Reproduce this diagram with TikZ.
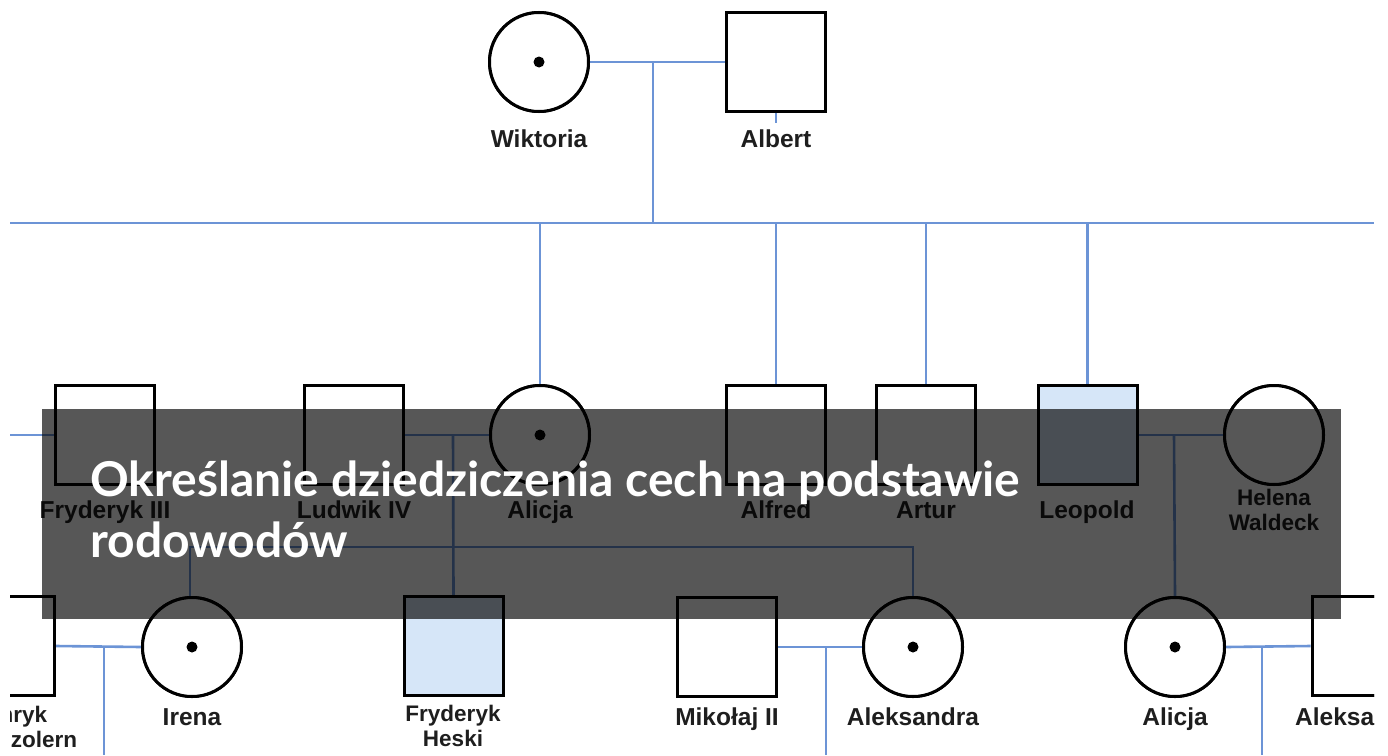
\documentclass[tikz,border=0pt]{standalone}
\usepackage{fontspec}
\newfontfamily\lblfont{Liberation Sans}
\newfontfamily\ttlfont{Lato}
\definecolor{linkblue}{HTML}{6C94D6}
\definecolor{affected}{HTML}{D6E6F8}
\definecolor{lbltext}{HTML}{1E1E1E}
\tikzset{
  person/.style={draw=black, line width=3pt, fill=white, inner sep=0pt, minimum size=99pt},
  male/.style={person, rectangle},
  female/.style={person, circle},
  carrier/.style={female, path picture={\fill[black] (path picture bounding box.center) circle (5.5pt);}},
  aff/.style={fill=affected},
  rel/.style={draw=linkblue, line width=2.6pt},
  lbl/.style={text=lbltext, font=\lblfont\bfseries\fontsize{24.5}{25}\selectfont, anchor=base, inner sep=0pt},
  lbltwo/.style={text=lbltext, font=\lblfont\bfseries\fontsize{22.5}{25}\selectfont, anchor=base, inner sep=0pt, align=center},
  ttl/.style={text=white, font=\ttlfont\bfseries\fontsize{48}{61}\selectfont, anchor=base west, inner sep=0pt, align=left}
}
\begin{document}
\begin{tikzpicture}[x=1pt, y=-1pt]
\useasboundingbox (0,0) rectangle (1388,755);
\fill[white] (0,0) rectangle (1388,755);
\begin{scope}
\clip (10,0) rectangle (1374,755);
% generation I
\node[carrier] (wik) at (539,62) {};
\node[male] (alb) at (776,62) {};
% generation II
\node[male] (fry3) at (105,435) {};
\node[male] (lud) at (353.5,435) {};
\node[carrier] (ali) at (540,435) {};
\node[male] (alf) at (776,435) {};
\node[male] (art) at (926,435) {};
\node[male, aff] (leo) at (1087.5,435) {};
\node[female] (hel) at (1274,435) {};
% generation III
\node[male] (hoh) at (5,646) {};
\node[carrier] (ire) at (192,647) {};
\node[male, aff] (fhe) at (453.5,646) {};
\node[male] (mik) at (727,647) {};
\node[carrier] (ale) at (913,647) {};
\node[carrier] (ali2) at (1175,647) {};
\node[male] (alx) at (1361.5,646) {};
% coordinates
\coordinate (sibL) at (10,223);
\coordinate (sibR) at (1374,223);
\coordinate (wa) at (653,62);
\coordinate (wad) at (653,223);
\coordinate (fl) at (10,435);
\coordinate (la) at (453,435);
\coordinate (lh) at (1174,435);
\coordinate (hi) at (104,646);
\coordinate (hid) at (104,755);
\coordinate (ma) at (826,647);
\coordinate (mad) at (826,755);
\coordinate (aa) at (1262,647);
\coordinate (aad) at (1262,755);
% connectors
\draw[rel] (wik.east) -- (alb.west);
\draw[rel] (wa) -- (wad);
\draw[rel] (sibL) -- (sibR);
\draw[rel] (alb.south) -- ++(0,10);
\draw[rel] (ali.north) -- (ali.north |- sibL);
\draw[rel] (alf.north) -- (alf.north |- sibL);
\draw[rel] (art.north) -- (art.north |- sibL);
\draw[rel] (leo.north) -- (leo.north |- sibL);
\draw[rel] (fl) -- (fry3.west);
\draw[rel] (lud.east) -- (ali.west);
\draw[rel] (la) -- (fhe.north);
\draw[rel] ([xshift=-2pt]ire.north) -- ++(0,-49) -| (ale.north);
\draw[rel] (leo.east) -- (hel.west);
\draw[rel] (lh) -- (ali2.north);
\draw[rel] (hoh.east) -- (ire.west);
\draw[rel] (hi) -- (hid);
\draw[rel] (mik.east) -- (ale.west);
\draw[rel] (ma) -- (mad);
\draw[rel] (ali2.east) -- (alx.west);
\draw[rel] (aa) -- (aad);
% shapes on top of connectors
\node[carrier] at (wik) {};
\node[male] at (alb) {};
\node[male] at (fry3) {};
\node[male] at (lud) {};
\node[carrier] at (ali) {};
\node[male] at (alf) {};
\node[male] at (art) {};
\node[male, aff] at (leo) {};
\node[female] at (hel) {};
\node[male] at (hoh) {};
\node[carrier] at (ire) {};
\node[male, aff] at (fhe) {};
\node[male] at (mik) {};
\node[carrier] at (ale) {};
\node[carrier] at (ali2) {};
\node[male] at (alx) {};
% labels
\node[lbl] (lwik) at (539,147) {Wiktoria};
\node[lbl] (lalb) at (776,147) {Albert};
\node[lbl] (lfry3) at (105,518) {Fryderyk III};
\node[lbl] (llud) at (354,518) {Ludwik IV};
\node[lbl] (lali) at (540,518) {Alicja};
\node[lbl] (lalf) at (776,518) {Alfred};
\node[lbl] (lart) at (926,518) {Artur};
\node[lbl] (lleo) at (1087,518) {Leopold};
\node[lbltwo] (lhel) at (1274,530) {Helena\\Waldeck};
\node[lbltwo] (lhoh) at (9,747) {Henryk\\Hohenzolern};
\node[lbl] (lire) at (192,725) {Irena};
\node[lbltwo] (lfhe) at (453,746) {Fryderyk\\Heski};
\node[lbl] (lmik) at (727,725) {Mikołaj II};
\node[lbl] (lale) at (913,725) {Aleksandra};
\node[lbl] (lali2) at (1175,725) {Alicja};
\node[lbl, anchor=base west] (lalx) at (1295,725) {Aleksander};
\end{scope}
% title banner
\fill[black, opacity=0.66] (42,409) rectangle (1341,619);
\node[ttl] (title) at (90,557) {Określanie dziedziczenia cech na podstawie\\rodowodów};
\end{tikzpicture}
\end{document}
